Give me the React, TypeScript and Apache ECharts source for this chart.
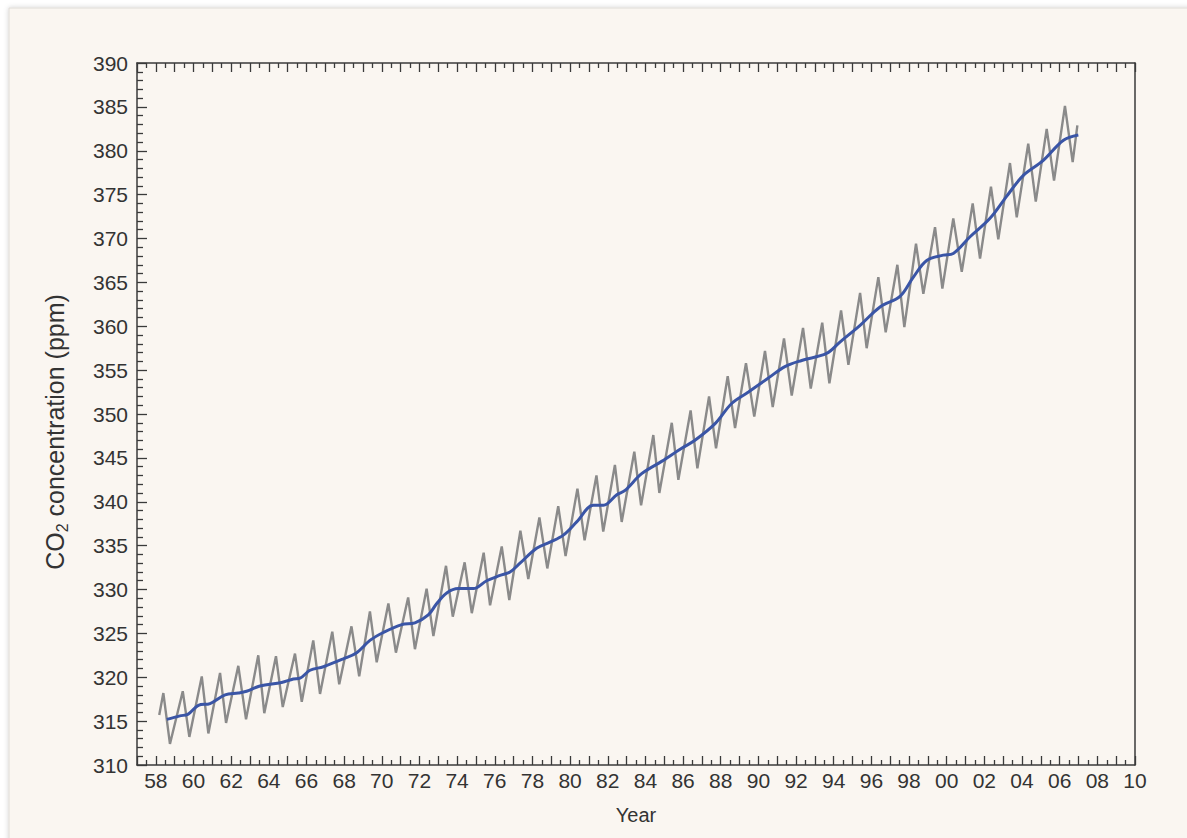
import React, { useEffect, useRef } from "react";
import * as echarts from "echarts";

// Seasonal (monthly-resolution) CO2 record: alternating peaks / troughs [decimal year, ppm]
const seasonalPoints: [number, number][] = [
  [1958.18, 315.7],
  [1958.40, 318.2], [1958.75, 312.4],
  [1959.43, 318.4], [1959.78, 313.2],
  [1960.44, 320.1], [1960.79, 313.6],
  [1961.41, 320.5], [1961.73, 314.8],
  [1962.38, 321.3], [1962.79, 315.2],
  [1963.44, 322.5], [1963.76, 315.9],
  [1964.38, 322.4], [1964.74, 316.6],
  [1965.39, 322.7], [1965.75, 317.2],
  [1966.36, 324.2], [1966.72, 318.1],
  [1967.37, 325.2], [1967.74, 319.2],
  [1968.39, 325.8], [1968.80, 320.1],
  [1969.37, 327.5], [1969.73, 321.7],
  [1970.35, 328.4], [1970.75, 322.8],
  [1971.40, 329.1], [1971.76, 323.2],
  [1972.38, 330.1], [1972.74, 324.7],
  [1973.41, 332.7], [1973.77, 326.9],
  [1974.40, 333.1], [1974.78, 327.3],
  [1975.41, 334.2], [1975.75, 328.2],
  [1976.37, 334.9], [1976.77, 328.8],
  [1977.36, 336.7], [1977.78, 331.2],
  [1978.37, 338.2], [1978.79, 332.4],
  [1979.37, 339.5], [1979.76, 333.8],
  [1980.39, 341.5], [1980.77, 335.6],
  [1981.40, 343.0], [1981.76, 336.6],
  [1982.38, 344.2], [1982.74, 337.7],
  [1983.41, 345.7], [1983.77, 339.6],
  [1984.42, 347.6], [1984.74, 341.0],
  [1985.40, 349.0], [1985.75, 342.5],
  [1986.40, 350.4], [1986.76, 343.8],
  [1987.38, 352.0], [1987.75, 346.1],
  [1988.37, 354.3], [1988.76, 348.4],
  [1989.34, 355.8], [1989.78, 349.7],
  [1990.35, 357.2], [1990.76, 350.8],
  [1991.36, 358.6], [1991.77, 352.1],
  [1992.37, 359.8], [1992.78, 352.9],
  [1993.39, 360.4], [1993.77, 353.5],
  [1994.39, 361.8], [1994.78, 355.6],
  [1995.40, 363.8], [1995.75, 357.5],
  [1996.37, 365.6], [1996.76, 359.3],
  [1997.38, 367.0], [1997.75, 359.9],
  [1998.37, 369.4], [1998.76, 363.7],
  [1999.38, 371.3], [1999.77, 364.3],
  [2000.35, 372.3], [2000.80, 366.2],
  [2001.38, 374.0], [2001.77, 367.7],
  [2002.35, 375.9], [2002.74, 369.9],
  [2003.36, 378.6], [2003.72, 372.4],
  [2004.33, 380.8], [2004.73, 374.2],
  [2005.31, 382.5], [2005.70, 376.6],
  [2006.28, 385.1], [2006.69, 378.7],
  [2006.94, 382.9],
];

// Smoothed trend [decimal year, ppm]
const trendPoints: [number, number][] = [
  [1958.58, 315.2], [1959.28, 315.6], [1959.72, 315.8], [1960.26, 316.8],
  [1960.88, 317.0], [1961.68, 318.0], [1962.38, 318.2], [1962.82, 318.4],
  [1963.53, 319.0], [1964.68, 319.4], [1965.30, 319.8], [1965.66, 319.9],
  [1966.19, 320.8], [1966.90, 321.2], [1967.96, 322.1], [1968.67, 322.8],
  [1969.37, 324.2], [1970.08, 325.1], [1971.06, 326.0], [1971.76, 326.2],
  [1972.47, 327.1], [1972.92, 328.4], [1973.45, 329.6], [1974.06, 330.1],
  [1974.86, 330.1], [1975.57, 331.0], [1976.28, 331.6], [1976.81, 332.0],
  [1977.34, 333.0], [1978.22, 334.7], [1978.93, 335.4], [1979.64, 336.2],
  [1980.35, 337.7], [1981.23, 339.6], [1981.77, 339.6], [1982.48, 340.8],
  [1982.92, 341.3], [1983.80, 343.2], [1984.86, 344.6], [1985.93, 346.1],
  [1986.63, 347.0], [1987.70, 348.9], [1988.58, 351.2], [1989.47, 352.5],
  [1990.53, 354.1], [1991.41, 355.4], [1992.30, 356.1], [1993.62, 356.9],
  [1994.33, 358.2], [1995.40, 360.1], [1996.46, 362.2], [1997.52, 363.4],
  [1998.23, 365.6], [1998.94, 367.5], [1999.82, 368.1], [2000.35, 368.3],
  [2001.24, 370.2], [2002.30, 372.3], [2003.18, 374.8], [2004.07, 377.2],
  [2005.13, 378.9], [2006.20, 381.2], [2006.99, 381.8],
];

const xMin = 1957;
const xMax = 2010;
const yMin = 310;
const yMax = 390;
const xTitle = "Year";
const yTitleRich = "{a|CO}{s|2}{a| concentration (ppm)}";

const FONT = "'Liberation Sans', Arial, Helvetica, sans-serif";
const AXIS_COLOR = "#3a3a3a";
const TEXT_COLOR = "#333333";

export default function App() {
  const ref = useRef<HTMLDivElement>(null);

  useEffect(() => {
    document.body.style.margin = "0";
    if (!ref.current) return;
    const chart = echarts.init(ref.current, undefined, { renderer: "svg" });

    const tickStyle = { color: AXIS_COLOR, width: 1.3 };
    const yearLabel = (v: number) => {
      const y = Math.round(v);
      if (y % 2 !== 0) return "";
      return String(y % 100).padStart(2, "0");
    };

    chart.setOption({
      animation: false,
      backgroundColor: "#ffffff",
      textStyle: { fontFamily: FONT },
      graphic: [
        {
          type: "rect",
          z: -10,
          silent: true,
          shape: { x: 9, y: 8, width: 1300, height: 1000 },
          style: {
            fill: "#faf6f1",
            stroke: "#dedbd7",
            lineWidth: 1,
            shadowBlur: 5,
            shadowColor: "rgba(0,0,0,0.18)",
          },
        },
        {
          type: "text",
          silent: true,
          x: 55,
          y: 432,
          rotation: Math.PI / 2,
          style: {
            text: yTitleRich,
            align: "center",
            verticalAlign: "middle",
            fill: TEXT_COLOR,
            fontFamily: FONT,
            fontSize: 25,
            rich: {
              a: { fontSize: 25, fill: TEXT_COLOR, fontFamily: FONT, lineHeight: 30 },
              s: { fontSize: 16, fill: TEXT_COLOR, fontFamily: FONT, lineHeight: 30, verticalAlign: "bottom", padding: [11, 0, 0, 0] },
            },
          },
        },
      ],
      grid: { left: 137, right: 52, top: 63, bottom: 73, containLabel: false },
      xAxis: [
        {
          type: "value",
          min: xMin,
          max: xMax,
          interval: 1,
          name: xTitle,
          nameLocation: "middle",
          nameGap: 40,
          nameTextStyle: { fontSize: 20, color: TEXT_COLOR, fontFamily: FONT },
          axisLine: { show: true, lineStyle: { color: AXIS_COLOR, width: 1.5 } },
          axisTick: { show: true, inside: true, length: 9, lineStyle: tickStyle },
          minorTick: { show: true, splitNumber: 2, length: 5, lineStyle: tickStyle },
          axisLabel: {
            formatter: yearLabel,
            fontSize: 21,
            color: TEXT_COLOR,
            margin: 5,
            fontFamily: FONT,
          },
          splitLine: { show: false },
        },
        {
          type: "value",
          position: "top",
          min: xMin,
          max: xMax,
          interval: 1,
          axisLine: { show: true, lineStyle: { color: AXIS_COLOR, width: 1.5 } },
          axisTick: { show: true, inside: true, length: 9, lineStyle: tickStyle },
          minorTick: { show: true, splitNumber: 2, length: 5, lineStyle: tickStyle },
          axisLabel: { show: false },
          splitLine: { show: false },
        },
      ],
      yAxis: [
        {
          type: "value",
          min: yMin,
          max: yMax,
          interval: 5,
          axisLine: { show: true, lineStyle: { color: AXIS_COLOR, width: 1.5 } },
          axisTick: { show: true, inside: true, length: 10, lineStyle: tickStyle },
          minorTick: { show: true, splitNumber: 5, length: 6, lineStyle: tickStyle },
          axisLabel: { fontSize: 21, color: TEXT_COLOR, margin: 9, fontFamily: FONT },
          splitLine: { show: false },
        },
        {
          type: "value",
          position: "right",
          min: yMin,
          max: yMax,
          interval: 5,
          axisLine: { show: true, lineStyle: { color: AXIS_COLOR, width: 1.5 } },
          axisTick: { show: false },
          axisLabel: { show: false },
          splitLine: { show: false },
        },
      ],
      series: [
        {
          name: "Monthly",
          type: "line",
          data: seasonalPoints,
          showSymbol: false,
          symbol: "none",
          lineStyle: { color: "#8a8a8a", width: 2.4 },
          z: 3,
        },
        {
          name: "Trend",
          type: "line",
          data: trendPoints,
          showSymbol: false,
          symbol: "none",
          smooth: 0.35,
          lineStyle: { color: "#3a55a6", width: 3 },
          z: 4,
        },
      ],
    });

    return () => chart.dispose();
  }, []);

  return <div ref={ref} style={{ width: 1187, height: 838 }} />;
}
